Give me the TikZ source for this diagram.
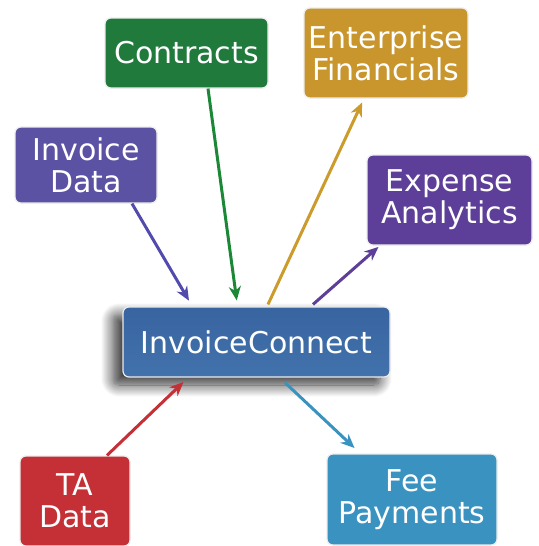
\documentclass[tikz,border=0pt]{standalone}
\usepackage{fontspec}
\setmainfont{DejaVu Sans}
\usetikzlibrary{arrows.meta,shadows.blur}

\definecolor{ctgreen}{RGB}{31,122,60}
\definecolor{efgold}{RGB}{200,150,45}
\definecolor{idpurple}{RGB}{91,82,163}
\definecolor{eapurple}{RGB}{93,62,152}
\definecolor{tared}{RGB}{197,48,55}
\definecolor{fpblue}{RGB}{58,146,193}
\definecolor{ictop}{RGB}{56,100,160}
\definecolor{icmid}{RGB}{42,82,140}
\definecolor{icbot}{RGB}{66,114,172}

\begin{document}
\begin{tikzpicture}[x=0.5pt,y=-0.5pt,
  box/.style={rounded corners=3pt, draw=white!85!gray, line width=0.6pt, text=white,
    align=center, inner sep=0pt, font=\fontsize{15}{16}\selectfont},
  link/.style={line width=1.5pt, shorten >=1pt, -{Stealth[length=7pt,width=6pt]}}]

\useasboundingbox (0,0) rectangle (538,546);

% hub
\node [box, minimum width=133.5pt, minimum height=35pt, top color=ictop, middle color=icmid,
  bottom color=icbot, blur shadow={shadow xshift=-5pt, shadow yshift=-4pt, shadow blur radius=6pt,
  shadow blur steps=16, shadow opacity=80}]
  (ic) at (256.5,342) {InvoiceConnect};

% sources
\node [box, fill=ctgreen, minimum width=81.5pt, minimum height=35pt] (ct) at (186.5,53) {Contracts};
\node [box, fill=idpurple, minimum width=71pt, minimum height=38pt] (id) at (86,165) {Invoice\\Data};
\node [box, fill=tared, minimum width=55pt, minimum height=45pt] (ta) at (75,501) {TA\\Data};

% targets
\node [box, fill=efgold, minimum width=82pt, minimum height=45pt] (ef) at (386,53) {Enterprise\\Financials};
\node [box, fill=eapurple, minimum width=82.5pt, minimum height=45pt] (ea) at (449.5,200) {Expense\\Analytics};
\node [box, fill=fpblue, minimum width=85pt, minimum height=45.5pt] (fp) at (412,499.5) {Fee\\Payments};

% in
\draw [link, color=idpurple!90!blue] ([xshift=23pt]id.south) -- ([xshift=-33.25pt,yshift=2pt]ic.north);
\draw [link, color=ctgreen!90!green] ([xshift=10.75pt]ct.south) -- ([xshift=-9.75pt,yshift=2pt]ic.north);
\draw [link, color=tared] ([xshift=16pt]ta.north) -- ([xshift=-35.75pt,yshift=-1.5pt]ic.south);

% out
\draw [link, color=efgold!95!yellow] ([xshift=5.75pt,yshift=1pt]ic.north) -- ([xshift=-11.5pt,yshift=-1pt]ef.south);
\draw [link, color=eapurple] ([xshift=28.25pt,yshift=1pt]ic.north) -- ([xshift=-34.75pt]ea.south);
\draw [link, color=fpblue] ([xshift=14.25pt,yshift=-2.5pt]ic.south) -- ([xshift=-28pt,yshift=2pt]fp.north);

\end{tikzpicture}
\end{document}
